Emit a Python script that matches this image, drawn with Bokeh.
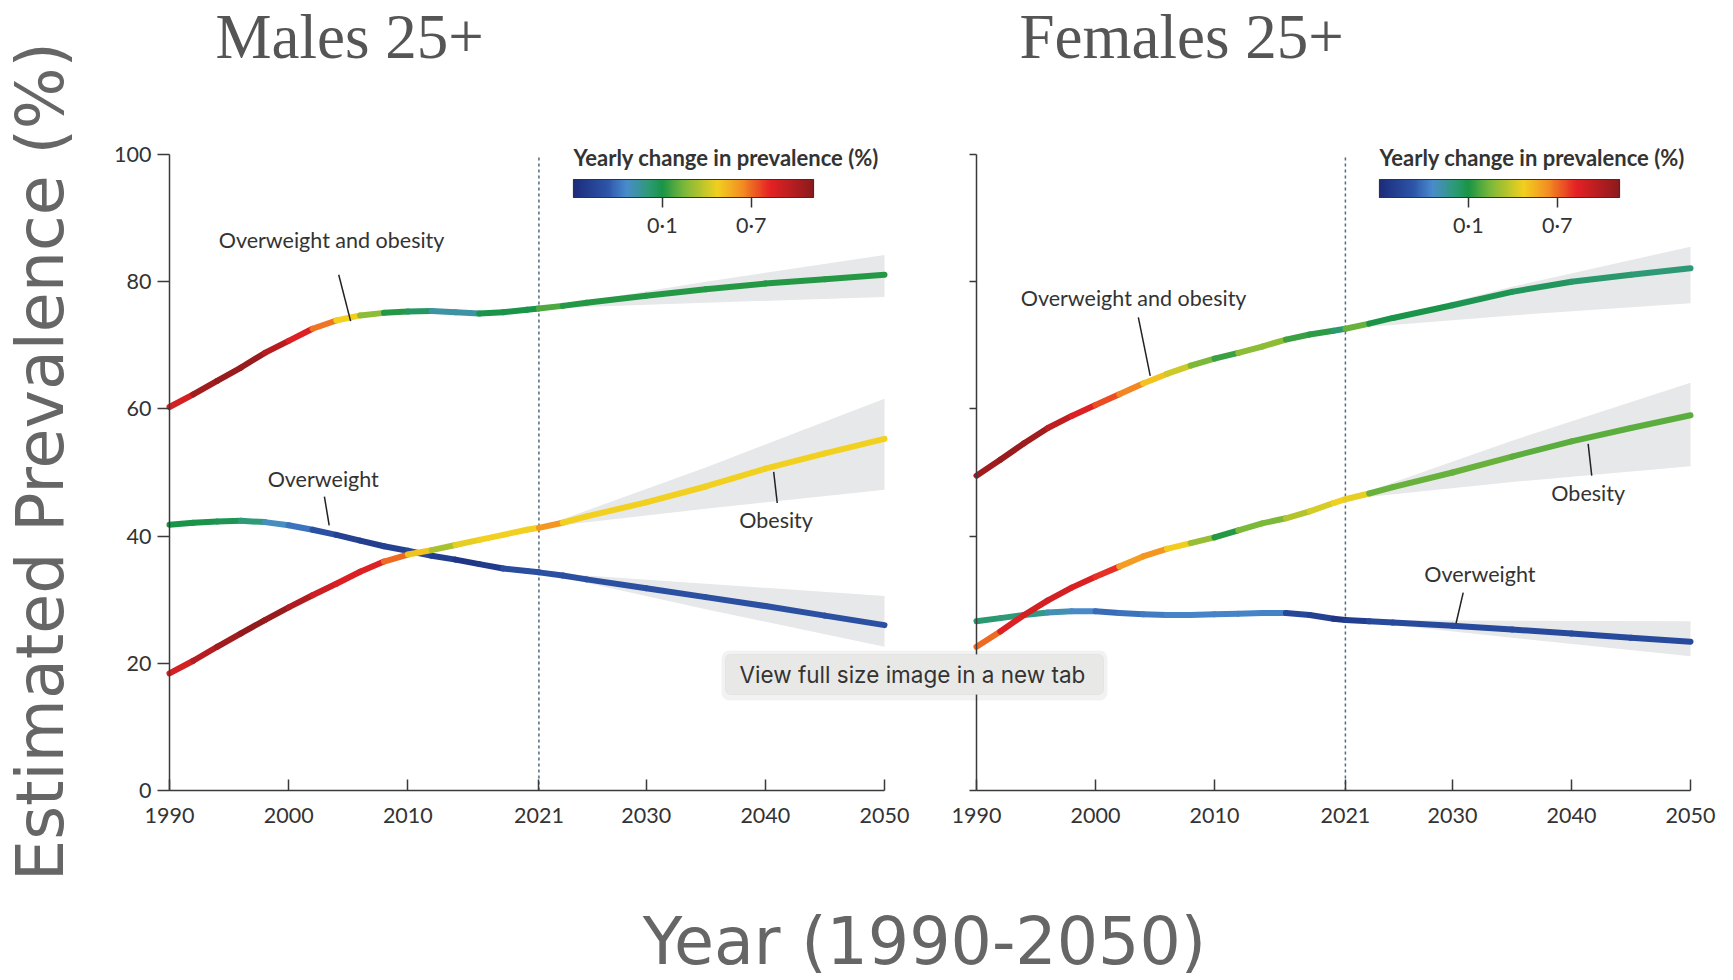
import math
from bokeh.plotting import figure
from bokeh.models import (Range1d, LinearAxis, FixedTicker, Label, ColorBar,
                          LinearColorMapper, ColumnDataSource, BoxAnnotation,
                          CustomJSTickFormatter)
from bokeh.embed import file_html
from bokeh.resources import INLINE

# ------------------------------------------------------------------ data
years = [1990, 1992, 1994, 1996, 1998, 2000, 2002, 2004, 2006, 2008, 2010, 2012,
         2014, 2016, 2018, 2020, 2021, 2023, 2025, 2030, 2035, 2040, 2045, 2050]

# Males 25+
male_ovob = [60.3, 62.3, 64.4, 66.5, 68.8, 70.7, 72.6, 73.9, 74.7, 75.1, 75.3, 75.4,
             75.2, 75.0, 75.2, 75.6, 75.8, 76.2, 76.7, 77.8, 78.8, 79.7, 80.4, 81.1]
male_ob = [18.4, 20.4, 22.6, 24.7, 26.8, 28.8, 30.7, 32.5, 34.4, 36.0, 37.1, 37.8,
           38.6, 39.4, 40.2, 41.0, 41.3, 42.1, 43.1, 45.3, 47.8, 50.6, 53.0, 55.3]
male_ow = [41.8, 42.1, 42.3, 42.4, 42.2, 41.7, 41.0, 40.2, 39.3, 38.4, 37.7, 36.9,
           36.3, 35.6, 34.9, 34.5, 34.3, 33.8, 33.2, 31.8, 30.4, 29.0, 27.5, 26.0]
# yearly change (%) for each interval years[i] -> years[i+1]
male_ovob_chg = [0.88, 1.05, 1.08, 1.08, 0.98, 0.85, 0.68, 0.47, 0.28, 0.12, 0.05, -0.07,
                 -0.07, 0.10, 0.10, 0.10, 0.18, 0.12, 0.12, 0.12, 0.12, 0.12, 0.12]
male_ob_chg = [0.88, 0.98, 1.05, 1.10, 1.08, 1.00, 0.90, 0.86, 0.85, 0.70, 0.50, 0.33,
               0.45, 0.47, 0.47, 0.47, 0.62, 0.47, 0.47, 0.47, 0.47, 0.47, 0.47]
male_ow_chg = [0.10, 0.10, 0.08, 0.00, -0.12, -0.20, -0.30, -0.38, -0.40, -0.38, -0.35, -0.40,
               -0.45, -0.42, -0.32, -0.30, -0.30, -0.30, -0.30, -0.30, -0.30, -0.30, -0.30]

# Females 25+
fem_ovob = [49.5, 52.0, 54.6, 57.0, 58.9, 60.6, 62.3, 64.0, 65.5, 66.8, 67.9, 68.8,
            69.8, 70.9, 71.7, 72.3, 72.6, 73.4, 74.3, 76.3, 78.4, 80.0, 81.1, 82.1]
fem_ob = [22.6, 25.0, 27.6, 29.9, 31.9, 33.6, 35.2, 36.8, 38.0, 38.9, 39.8, 40.9,
          42.0, 42.8, 43.9, 45.2, 45.8, 46.7, 47.7, 50.0, 52.5, 54.9, 57.0, 59.0]
fem_ow = [26.6, 27.1, 27.6, 28.0, 28.2, 28.2, 27.9, 27.7, 27.6, 27.6, 27.7, 27.8,
          27.9, 27.9, 27.6, 27.0, 26.8, 26.6, 26.4, 25.9, 25.3, 24.7, 24.0, 23.4]
fem_ovob_chg = [1.05, 1.08, 1.05, 0.95, 0.85, 0.75, 0.65, 0.50, 0.40, 0.25, 0.15, 0.28,
                0.28, 0.15, 0.13, 0.02, 0.22, 0.10, 0.10, 0.08, 0.06, 0.03, 0.01]
fem_ob_chg = [0.70, 0.85, 0.88, 0.88, 0.86, 0.80, 0.60, 0.62, 0.48, 0.30, 0.12, 0.25,
              0.25, 0.35, 0.42, 0.47, 0.45, 0.22, 0.22, 0.22, 0.20, 0.20, 0.20]
fem_ow_chg = [0.02, 0.00, -0.02, -0.10, -0.15, -0.22, -0.20, -0.18, -0.16, -0.16, -0.16, -0.16,
              -0.17, -0.35, -0.38, -0.45, -0.40, -0.33, -0.33, -0.33, -0.33, -0.33, -0.33]

# uncertainty intervals of the forecasts
band_years = [2021, 2035, 2050]
male_ovob_lo = [75.8, 76.7, 77.6]
male_ovob_hi = [75.8, 80.0, 84.2]
male_ob_lo = [41.3, 44.3, 47.3]
male_ob_hi = [41.3, 50.8, 61.6]
male_ow_lo = [34.3, 28.5, 22.6]
male_ow_hi = [34.3, 32.5, 30.6]
fem_ovob_lo = [72.6, 74.7, 76.6]
fem_ovob_hi = [72.6, 79.2, 85.5]
fem_ob_lo = [45.8, 48.5, 51.0]
fem_ob_hi = [45.8, 55.0, 64.1]
fem_ow_lo = [26.8, 24.0, 21.1]
fem_ow_hi = [26.8, 26.7, 26.6]

forecast_start = 2021
x_ticks = [1990, 2000, 2010, 2021, 2030, 2040, 2050]
y_ticks = [0, 20, 40, 60, 80, 100]
cbar_ticks = [0.1, 0.7]
cbar_low, cbar_high = -0.5, 1.12

# ------------------------------------------------------------------ styling
stops = [(0.00, "#1c2d7c"), (0.14, "#2d55a8"), (0.22, "#4a8ccc"), (0.31, "#2e9a78"),
         (0.37, "#1a9448"), (0.46, "#7ab83a"), (0.60, "#f2d020"), (0.70, "#f39022"),
         (0.82, "#e42125"), (1.00, "#8c1a1c")]


def hex2rgb(h):
    return tuple(int(h[i:i + 2], 16) for i in (1, 3, 5))


palette = []
for k in range(256):
    f = k / 255
    for (f0, c0), (f1, c1) in zip(stops[:-1], stops[1:]):
        if f0 <= f <= f1:
            t = (f - f0) / (f1 - f0)
            a, b = hex2rgb(c0), hex2rgb(c1)
            palette.append("#%02x%02x%02x" % tuple(round(a[i] + (b[i] - a[i]) * t) for i in range(3)))
            break

mapper = LinearColorMapper(palette=palette, low=cbar_low, high=cbar_high)

FONT = "Lato"
TXT = "#333333"

# canvas and panel geometry (px); the frame fills the whole canvas
CW, CH = 1733, 980
L0, L1 = 169, 884      # left panel: x of 1990 and 2050
R0, R1 = 976, 1690     # right panel
Y0, Y100 = 790, 154    # y of 0 % and 100 %
ppl, ppr, ppv = (L1 - L0) / 60, (R1 - R0) / 60, (Y0 - Y100) / 100


def SX(x):
    return x


def SY(y):
    return CH - y


p = figure(width=CW, height=CH, output_backend="svg", toolbar_location=None,
           x_range=Range1d(1990 - L0 / ppl, 1990 + (CW - L0) / ppl),
           y_range=Range1d(-(CH - Y0) / ppv, Y0 / ppv),
           x_axis_type=None, y_axis_type=None,
           min_border_left=0, min_border_right=0, min_border_top=0, min_border_bottom=0)
p.extra_x_ranges = {"right": Range1d(1990 - R0 / ppr, 1990 + (CW - R0) / ppr)}
p.outline_line_color = None
p.background_fill_color = "white"
p.border_fill_color = "white"


def style_axis(ax, tick_in=0, tick_out=0, labels=True):
    ax.axis_line_color = "#3a3a3a"
    ax.axis_line_width = 1.5
    ax.major_tick_line_color = "#3a3a3a"
    ax.major_tick_line_width = 1.5
    ax.minor_tick_line_color = None
    ax.major_tick_in = tick_in
    ax.major_tick_out = tick_out
    ax.major_label_text_font = FONT
    ax.major_label_text_font_size = "21.5px"
    ax.major_label_text_color = TXT if labels else None


for rng in ("default", "right"):
    xa = LinearAxis(x_range_name=rng, bounds=(1990, 2050), ticker=FixedTicker(ticks=x_ticks),
                    fixed_location=0)
    style_axis(xa, tick_in=11)
    xa.major_label_standoff = 17
    p.add_layout(xa, "below")
    ya = LinearAxis(x_range_name=rng, bounds=(0, 100), ticker=FixedTicker(ticks=y_ticks),
                    fixed_location=1990)
    style_axis(ya, tick_out=12 if rng == "default" else 7, labels=(rng == "default"))
    ya.major_label_standoff = 6
    p.add_layout(ya, "left")

BAND = "#e7e8ea"
for rng, bands in (("default", [(male_ovob_lo, male_ovob_hi), (male_ob_lo, male_ob_hi), (male_ow_lo, male_ow_hi)]),
                   ("right", [(fem_ovob_lo, fem_ovob_hi), (fem_ob_lo, fem_ob_hi), (fem_ow_lo, fem_ow_hi)])):
    for lo, hi in bands:
        p.varea(x=band_years, y1=lo, y2=hi, fill_color=BAND, fill_alpha=1.0, x_range_name=rng)

for rng in ("default", "right"):
    p.segment(x0=[forecast_start], y0=[0], x1=[forecast_start], y1=[100], line_color="#4f6a80",
              line_width=1.5, line_dash="3 3", x_range_name=rng)

series = [("default", male_ow, male_ow_chg), ("default", male_ob, male_ob_chg),
          ("default", male_ovob, male_ovob_chg),
          ("right", fem_ow, fem_ow_chg), ("right", fem_ob, fem_ob_chg),
          ("right", fem_ovob, fem_ovob_chg)]
for rng, vals, chg in series:
    src = ColumnDataSource(dict(x0=years[:-1], x1=years[1:], y0=vals[:-1], y1=vals[1:], c=chg))
    p.segment(x0="x0", y0="y0", x1="x1", y1="y1", source=src, line_width=6, line_cap="round",
              line_color={"field": "c", "transform": mapper}, x_range_name=rng)

# series labels with leader lines: (range, text, x, y, leader x0, y0, x1, y1)
labels = [("default", "Overweight and obesity", 2003.6, 86.6, 2004.2, 81.1, 2005.2, 73.8),
          ("default", "Overweight", 2002.9, 49.0, 2003.0, 46.2, 2003.4, 41.7),
          ("default", "Obesity", 2040.9, 42.5, 2040.7, 50.1, 2041.0, 45.2),
          ("right", "Overweight and obesity", 2003.2, 77.5, 2003.6, 74.4, 2004.6, 65.2),
          ("right", "Obesity", 2041.4, 46.7, 2041.4, 54.5, 2041.7, 49.5),
          ("right", "Overweight", 2032.3, 34.0, 2030.9, 31.1, 2030.3, 26.3)]
for rng, t, lx, ly, ax0, ay0, ax1, ay1 in labels:
    p.segment(x0=[ax0], y0=[ay0], x1=[ax1], y1=[ay1], line_color="#222222", line_width=1.5,
              x_range_name=rng)
    p.add_layout(Label(x=lx, y=ly, text=t, x_range_name=rng, text_font=FONT,
                       text_font_size="21.5px", text_color=TXT, text_align="center",
                       text_baseline="middle"))

fmt = CustomJSTickFormatter(code="return tick.toFixed(1).replace('.', '\u00b7');")
for bx in (573, 1379):
    cb = ColorBar(color_mapper=mapper, orientation="horizontal", width=240, height=18,
                  ticker=FixedTicker(ticks=cbar_ticks), formatter=fmt,
                  title="Yearly change in prevalence (%)", title_text_font=FONT,
                  title_text_font_size="22px", title_text_font_style="bold",
                  title_text_color=TXT, title_standoff=18,
                  major_label_text_font=FONT, major_label_text_font_size="21.5px",
                  major_label_text_color=TXT, major_tick_out=10, major_tick_in=0,
                  major_tick_line_color="#333333", major_tick_line_width=1.5,
                  minor_tick_line_color=None, bar_line_color="#333333", bar_line_width=1.2,
                  background_fill_color=None, border_line_color=None, padding=0,
                  label_standoff=4, location=(SX(bx), SY(240)))
    p.add_layout(cb, "center")

# panel titles and shared axis titles
for x, t in ((215, "Males 25+"), (1019, "Females 25+")):
    p.add_layout(Label(x=SX(x), y=SY(36), x_units="screen", y_units="screen", text=t,
                       text_font="Liberation Serif", text_font_size="63px", text_color="#555555",
                       text_baseline="alphabetic", text_align="left"))
p.add_layout(Label(x=SX(40), y=SY(461), x_units="screen", y_units="screen", angle=math.pi / 2,
                   text="Estimated Prevalence (%)", text_font="DejaVu Sans",
                   text_font_size="65px", text_color="#666666", text_align="center",
                   text_baseline="middle"))
p.add_layout(Label(x=SX(924), y=SY(941), x_units="screen", y_units="screen",
                   text="Year (1990-2050)", text_font="DejaVu Sans", text_font_size="65px",
                   text_color="#666666", text_align="center", text_baseline="middle"))

# browser tooltip overlay
p.add_layout(BoxAnnotation(left=SX(721), right=SX(1107), top=SY(650), bottom=SY(700),
                           left_units="screen", right_units="screen", top_units="screen",
                           bottom_units="screen", fill_color="#000000", fill_alpha=0.05,
                           line_color=None, border_radius=8, level="overlay"))
p.add_layout(BoxAnnotation(left=SX(725), right=SX(1103), top=SY(654), bottom=SY(694),
                           left_units="screen", right_units="screen", top_units="screen",
                           bottom_units="screen", fill_color="#e8e8e6", fill_alpha=1.0,
                           line_color="#d2d2d0", line_width=1, border_radius=5, level="overlay"))
p.add_layout(Label(x=SX(739), y=SY(674), x_units="screen", y_units="screen",
                   text="View full size image in a new tab", text_font="Inter",
                   text_font_size="22.5px", text_color="#333333", text_baseline="middle",
                   text_align="left", level="overlay"))

open("out.html", "w", encoding="utf-8").write(file_html(p, INLINE))
